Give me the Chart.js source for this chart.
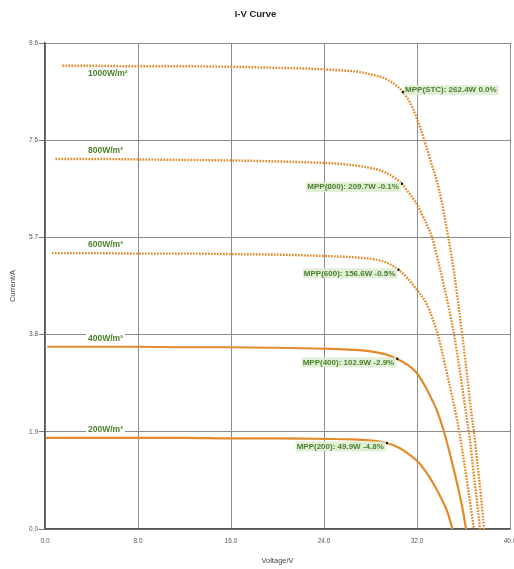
<!DOCTYPE html>
<html><head><meta charset="utf-8">
<script src="https://cdn.jsdelivr.net/npm/chart.js@4"></script>
<style>html,body{margin:0;padding:0;background:#fff}</style>
</head><body>
<canvas id="c" width="514" height="569"></canvas>
<script>
const seriesNames = ['1000W/m²', '800W/m²', '600W/m²', '400W/m²', '200W/m²'];

const v1000 = [1.5, 4, 8, 12, 16, 20, 23, 25.5, 27, 28, 29, 29.8, 30.8, 31.4, 31.9, 32.6, 33.2, 33.9, 34.7, 35.2, 35.6, 35.9, 36.3, 36.7, 36.9, 37.2, 37.5, 37.77];
const i1000 = [9.15, 9.15, 9.14, 9.14, 9.13, 9.11, 9.09, 9.06, 9.03, 8.98, 8.92, 8.83, 8.63, 8.42, 8.16, 7.70, 7.25, 6.70, 5.75, 5.05, 4.36, 3.83, 3.05, 2.25, 1.92, 1.30, 0.65, 0];

const v800 = [0.9, 4, 8, 12, 16, 20, 23, 25.5, 27, 28, 29, 30, 30.7, 31.1, 31.8, 32.5, 33.3, 34.0, 34.8, 35.2, 35.7, 36.3, 36.5, 36.9, 37.2, 37.42];
const i800 = [7.31, 7.31, 7.30, 7.29, 7.28, 7.26, 7.24, 7.21, 7.17, 7.13, 7.07, 6.95, 6.82, 6.70, 6.48, 6.18, 5.75, 5.12, 4.30, 3.83, 3.10, 2.15, 1.85, 1.05, 0.45, 0];

const v600 = [0.6, 4, 8, 12, 16, 20, 23, 25.5, 27, 28.5, 29.5, 30.4, 31.2, 32.0, 32.7, 33.05, 33.8, 34.6, 35.45, 35.65, 36.1, 36.5, 36.9];
const i600 = [5.45, 5.45, 5.44, 5.44, 5.43, 5.42, 5.40, 5.38, 5.36, 5.32, 5.25, 5.12, 4.95, 4.72, 4.50, 4.33, 3.83, 3.05, 2.15, 1.90, 1.25, 0.62, 0];

const v400 = [0.2, 4, 8, 12, 16, 20, 24, 26.5, 28, 29.3, 30.3, 31.2, 31.9, 32.6, 33.3, 33.7, 34.3, 34.9, 35.5, 35.9, 36.22];
const i400 = [3.60, 3.60, 3.60, 3.59, 3.59, 3.58, 3.56, 3.54, 3.51, 3.45, 3.36, 3.24, 3.10, 2.86, 2.55, 2.35, 1.94, 1.42, 0.85, 0.42, 0];

const v200 = [0.1, 4, 8, 12, 16, 20, 24, 26.5, 27.9, 29.4, 30.5, 31.4, 32.2, 33.0, 33.6, 34.1, 34.6, 35.05];
const i200 = [1.80, 1.80, 1.80, 1.80, 1.79, 1.79, 1.78, 1.77, 1.75, 1.70, 1.60, 1.46, 1.30, 1.05, 0.82, 0.60, 0.35, 0];

const mppLabels = ['MPP(STC): 262.4W 0.0%', 'MPP(800): 209.7W -0.1%', 'MPP(600): 156.6W -0.5%', 'MPP(400): 102.9W -2.9%', 'MPP(200): 49.9W -4.8%'];
const mppV = [30.8, 30.7, 30.4, 30.3, 29.4];
const mppI = [8.63, 6.82, 5.12, 3.36, 1.70];

const yTicks = [0, 1.92, 3.84, 5.76, 7.68, 9.6];
const xTicks = [0, 8, 16, 24, 32, 40];

const volts = [v1000, v800, v600, v400, v200];
const amps = [i1000, i800, i600, i400, i200];

const ORANGE = '#E38A2A';
const GREEN = '#4a8229';
const FONT = '"Liberation Sans", Arial, sans-serif';

const datasets = volts.map((vs, k) => ({
  label: seriesNames[k],
  data: vs.map((v, j) => ({x: v, y: amps[k][j]})),
  showLine: true,
  borderColor: ORANGE,
  backgroundColor: ORANGE,
  borderWidth: k < 3 ? 2.4 : 2.2,
  borderDash: k < 3 ? [1.7, 1.3] : [],
  pointRadius: 0,
  cubicInterpolationMode: 'monotone',
  order: 2
}));
datasets.push({
  label: 'MPP',
  data: mppV.map((v, j) => ({x: v, y: mppI[j]})),
  showLine: false,
  pointRadius: 1.3,
  pointBackgroundColor: '#111',
  pointBorderWidth: 0,
  order: 1
});

const labelPlugin = {
  id: 'labelPlugin',
  afterDatasetsDraw(chart) {
    const ctx = chart.ctx;
    const xs = chart.scales.x, ys = chart.scales.y;
    ctx.save();
    ctx.font = 'bold 8.5px ' + FONT;
    ctx.textBaseline = 'middle';
    ctx.textAlign = 'left';
    seriesNames.forEach((name, k) => {
      const x = xs.getPixelForValue(3.7);
      const y = ys.getPixelForValue(amps[k][0]) + (k === 0 ? 8 : -8);
      const w = ctx.measureText(name).width;
      ctx.fillStyle = '#ffffff';
      ctx.fillRect(x - 2, y - 5, w + 4, 10);
      ctx.fillStyle = GREEN;
      ctx.fillText(name, x, y);
    });
    ctx.font = 'bold 8px ' + FONT;
    mppLabels.forEach((txt, k) => {
      const px = xs.getPixelForValue(mppV[k]);
      const py = ys.getPixelForValue(mppI[k]);
      const w = ctx.measureText(txt).width;
      const cy = k === 0 ? py - 2 : py + 3.5;
      const left = k === 0 ? px + 2 : px - w - 3;
      ctx.fillStyle = 'rgba(222,236,212,0.9)';
      ctx.fillRect(left - 1, cy - 5, w + 3, 10);
      ctx.fillStyle = GREEN;
      ctx.fillText(txt, left, cy);
    });
    ctx.restore();
  }
};

new Chart(document.getElementById('c'), {
  type: 'scatter',
  data: {datasets},
  options: {
    responsive: false,
    devicePixelRatio: 1,
    animation: false,
    layout: {padding: {left: 0, right: 3, top: 0, bottom: 0}},
    plugins: {
      legend: {display: false},
      tooltip: {enabled: false},
      title: {
        display: true,
        text: 'I-V Curve',
        color: '#222',
        font: {family: FONT, size: 9.5, weight: 'bold'},
        padding: {top: 8.3, bottom: 23.3}
      }
    },
    scales: {
      x: {
        type: 'linear',
        min: 0, max: 40,
        afterBuildTicks: s => { s.ticks = xTicks.map(v => ({value: v})); },
        afterFit: s => { s.height = 40; s.paddingLeft = 0; s.paddingRight = 0; },
        ticks: {
          color: '#555',
          font: {family: FONT, size: 6.5},
          padding: 8,
          maxRotation: 0,
          callback: v => Number(v).toFixed(1)
        },
        grid: {color: '#8c8c8c', lineWidth: 1, drawTicks: false},
        border: {color: '#555', width: 1.5},
        title: {
          display: true,
          text: 'Voltage/V',
          color: '#444',
          font: {family: FONT, size: 7.5},
          padding: {top: 0, bottom: 4}
        }
      },
      y: {
        type: 'linear',
        min: 0, max: 9.6,
        afterBuildTicks: s => { s.ticks = yTicks.map(v => ({value: v})); },
        afterFit: s => { s.width = 45; s.paddingTop = 0; s.paddingBottom = 0; },
        ticks: {
          color: '#555',
          font: {family: FONT, size: 6.5},
          padding: 1,
          callback: v => (Math.floor(Number(v) * 10 + 1e-6) / 10).toFixed(1)
        },
        grid: {color: '#8c8c8c', lineWidth: 1, tickLength: 6, tickColor: '#777'},
        border: {color: '#555', width: 1.5},
        title: {
          display: true,
          text: 'Current/A',
          color: '#444',
          font: {family: FONT, size: 7.5},
          padding: {top: 8.5, bottom: 0}
        }
      }
    }
  },
  plugins: [labelPlugin]
});
</script>
</body></html>
